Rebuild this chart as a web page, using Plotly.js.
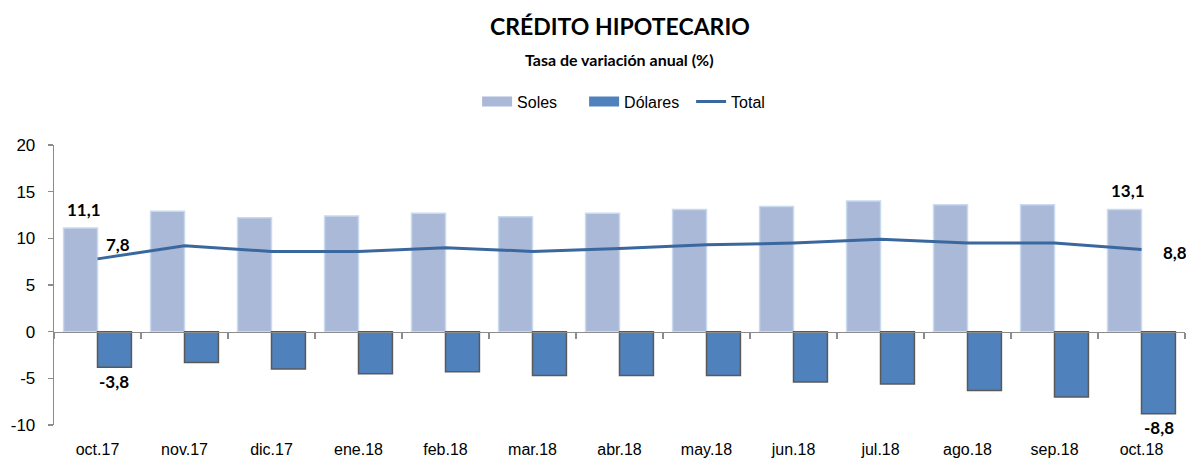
<!DOCTYPE html>
<html>
<head>
<meta charset="utf-8">
<script src="https://cdn.plot.ly/plotly-3.0.1.min.js"></script>
<style>html,body{margin:0;padding:0;background:#fff;}#chart{width:1186px;height:459px;}</style>
</head>
<body>
<div id="chart"></div>
<script>
const categories = ["oct.17","nov.17","dic.17","ene.18","feb.18","mar.18","abr.18","may.18","jun.18","jul.18","ago.18","sep.18","oct.18"];
const soles   = [11.1, 12.9, 12.2, 12.4, 12.7, 12.3, 12.7, 13.1, 13.4, 14.0, 13.6, 13.6, 13.1];
const dolares = [-3.8, -3.3, -4.0, -4.5, -4.3, -4.7, -4.7, -4.7, -5.4, -5.6, -6.3, -7.0, -8.8];
const total   = [7.8, 9.2, 8.6, 8.6, 9.0, 8.6, 8.9, 9.3, 9.5, 9.9, 9.5, 9.5, 8.8];
const yTicks  = [-10, -5, 0, 5, 10, 15, 20];

const fmt = v => v.toFixed(1).replace('.', ',');
const last = categories.length - 1;
const lblFont = {family: 'Lato, "Liberation Sans", sans-serif', size: 17, color: '#000'};
const SOLES_C = '#A9B9D7', DOL_C = '#4F81BD', TOT_C = '#3A689E';

const traces = [
  {type: 'bar', name: 'Soles', x: categories, y: soles, showlegend: false,
   marker: {color: SOLES_C, line: {color: '#C9D9EE', width: 1.5}}},
  {type: 'bar', name: 'Dólares', x: categories, y: dolares, showlegend: false,
   marker: {color: DOL_C, line: {color: '#595959', width: 1.5}}},
  {type: 'scatter', mode: 'lines', name: 'Total', x: categories, y: total, xaxis: 'x2', showlegend: false,
   line: {color: TOT_C, width: 3}},
  // legend-only entries (no data) to get wide rectangular swatches
  {type: 'scatter', mode: 'lines', name: 'Soles', x: [null], y: [null], line: {color: SOLES_C, width: 10}},
  {type: 'scatter', mode: 'lines', name: 'Dólares', x: [null], y: [null], line: {color: DOL_C, width: 10}},
  {type: 'scatter', mode: 'lines', name: 'Total', x: [null], y: [null], line: {color: TOT_C, width: 3}}
];

const annotations = [
  {text: '<b>' + fmt(soles[0]) + '</b>', x: categories[0], y: soles[0], xref: 'x', yref: 'y',
   showarrow: false, yanchor: 'bottom', yshift: 6, xshift: -14, font: lblFont},
  {text: '<b>' + fmt(soles[last]) + '</b>', x: categories[last], y: soles[last], xref: 'x', yref: 'y',
   showarrow: false, yanchor: 'bottom', yshift: 6, xshift: -14, font: lblFont},
  {text: '<b>' + fmt(dolares[0]) + '</b>', x: categories[0], y: dolares[0], xref: 'x', yref: 'y',
   showarrow: false, yanchor: 'top', yshift: -2, xshift: 16, font: lblFont},
  {text: '<b>' + fmt(dolares[last]) + '</b>', x: categories[last], y: dolares[last], xref: 'x', yref: 'y',
   showarrow: false, yanchor: 'top', yshift: -1, xshift: 17, font: lblFont},
  {text: '<b>' + fmt(total[0]) + '</b>', x: categories[0], y: total[0], xref: 'x', yref: 'y',
   showarrow: false, xshift: 20, yshift: 14, font: lblFont},
  {text: '<b>' + fmt(total[last]) + '</b>', x: categories[last], y: total[last], xref: 'x', yref: 'y',
   showarrow: false, xshift: 33, yshift: -3, font: lblFont},
  {text: '<b>CRÉDITO HIPOTECARIO</b>', xref: 'paper', yref: 'paper', x: 0.5, y: 1, yanchor: 'middle',
   yshift: 119, showarrow: false, font: {family: 'Lato, sans-serif', size: 23, color: '#000'}},
  {text: '<b>Tasa de variación anual (%)</b>', xref: 'paper', yref: 'paper', x: 0.5, y: 1, yanchor: 'middle',
   yshift: 86, showarrow: false, font: {family: 'Lato, sans-serif', size: 16, color: '#000'}}
];

const layout = {
  width: 1186, height: 459,
  margin: {l: 54, r: 1, t: 145, b: 34, pad: 0},
  paper_bgcolor: '#fff', plot_bgcolor: '#fff',
  barmode: 'group', bargap: 0.22, bargroupgap: 0,
  showlegend: true,
  legend: {orientation: 'h', x: 0.516, xanchor: 'center', xref: 'paper', y: 1.155, yref: 'paper', yanchor: 'middle',
           font: {family: '"Liberation Sans", Arial, sans-serif', size: 16, color: '#000'},
           itemwidth: 30, entrywidth: 62, traceorder: 'normal'},
  font: {family: '"Liberation Sans", Arial, sans-serif', size: 16, color: '#000'},
  xaxis: {type: 'category', range: [-0.5, 12.5], showline: false, showgrid: false, zeroline: false,
          ticks: '', tickfont: {size: 16, color: '#000'}, ticklabelstandoff: 13, fixedrange: true},
  xaxis2: {type: 'category', overlaying: 'x', anchor: 'free', position: 1/3, range: [-0.5, 12.5],
           showline: true, linecolor: '#8C8C8C', linewidth: 1.3, showgrid: false, zeroline: false,
           ticks: 'outside', tickson: 'boundaries', ticklen: 6, tickcolor: '#8C8C8C', tickwidth: 1.3,
           showticklabels: false},
  yaxis: {range: [-10, 20], tickvals: yTicks, ticktext: yTicks.map(String), showline: true, linecolor: '#8C8C8C', linewidth: 1.3,
          showgrid: false, zeroline: false, ticks: 'outside', ticklen: 5, tickcolor: '#8C8C8C', tickwidth: 1.3,
          tickfont: {size: 17, color: '#000'}, ticklabelstandoff: 9},
  annotations: annotations
};

Plotly.newPlot('chart', traces, layout, {displayModeBar: false, staticPlot: true});
</script>
</body>
</html>
